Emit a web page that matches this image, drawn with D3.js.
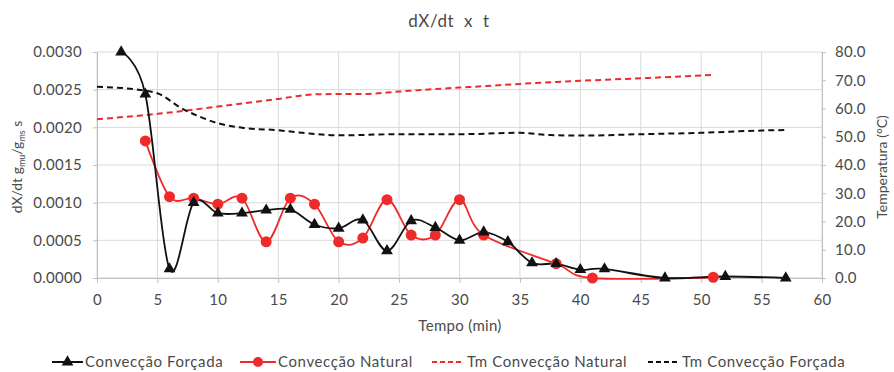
<!DOCTYPE html>
<html><head><meta charset="utf-8">
<script src="https://cdn.jsdelivr.net/npm/d3@7"></script>
<style>
html,body{margin:0;padding:0;background:#fff;}
text{font-family:Lato,"Open Sans",sans-serif;fill:#4a4a4a;}
</style></head>
<body><svg id="chart" width="894" height="372"></svg>
<script>
// ---- data ----
const forcadaTime = [2, 4, 6, 8, 10, 12, 14, 16, 18, 20, 22, 24, 26, 28, 30, 32, 34, 36, 38, 40, 42, 47, 52, 57];
const forcadaRate = [0.0030, 0.00244, 0.00012, 0.00100, 0.00086, 0.00086, 0.00090, 0.00091, 0.00071, 0.00066, 0.00077, 0.00036, 0.00076, 0.00067, 0.00050, 0.00061, 0.00048, 0.00020, 0.00019, 0.00011, 0.00012, 0.0, 0.00002, 0.0];
const naturalTime = [4, 6, 8, 10, 12, 14, 16, 18, 20, 22, 24, 26, 28, 30, 32, 38, 41, 51];
const naturalRate = [0.00182, 0.00108, 0.00106, 0.00098, 0.00106, 0.00048, 0.00106, 0.00098, 0.00048, 0.00053, 0.00104, 0.00057, 0.00057, 0.00104, 0.00057, 0.00019, 0.0, 0.00001];
const tmNaturalTime = [0, 5, 10, 15, 18, 20, 22, 25, 28, 30, 32, 35, 38, 40, 45, 51];
const tmNaturalTemp = [56.2, 58.1, 60.7, 63.4, 65.0, 65.1, 65.1, 66.0, 66.9, 67.4, 67.9, 68.7, 69.4, 69.8, 70.7, 71.9];
const tmForcadaTime = [0, 4, 5, 7, 8.5, 10, 12, 15, 17, 20, 25, 30, 35, 37.5, 40, 45, 50, 55, 57];
const tmForcadaTemp = [67.7, 66.3, 65.4, 60.1, 57.1, 54.8, 53.2, 52.3, 51.4, 50.5, 50.9, 50.9, 51.4, 50.6, 50.4, 50.9, 51.4, 52.2, 52.4];
const xTicks = [0, 5, 10, 15, 20, 25, 30, 35, 40, 45, 50, 55, 60];
const yLeftTicks = [0, 0.0005, 0.0010, 0.0015, 0.0020, 0.0025, 0.0030];
const yRightTicks = [0, 10, 20, 30, 40, 50, 60, 70, 80];
const seriesNames = ["Convecção Forçada", "Convecção Natural", "Tm Convecção Natural", "Tm Convecção Forçada"];

// ---- layout ----
const RED = "#ee2a2a", BLACK = "#111";
const svg = d3.select("#chart");
const L = 97, R = 822, T = 52, B = 278;
const x = d3.scaleLinear().domain([0, 60]).range([L, R]);
const yL = d3.scaleLinear().domain([0, 0.003]).range([B, T]);
const yR = d3.scaleLinear().domain([0, 80]).range([B, T]);

// grid
const grid = svg.append("g");
grid.selectAll(".hg").data(yLeftTicks).join("line")
  .attr("x1", L).attr("x2", R).attr("y1", d => yL(d)).attr("y2", d => yL(d))
  .attr("stroke", "#d9d9d9").attr("stroke-width", 1);
grid.selectAll(".vg").data(xTicks).join("line")
  .attr("x1", d => x(d)).attr("x2", d => x(d)).attr("y1", T).attr("y2", B)
  .attr("stroke", "#d9d9d9").attr("stroke-width", 1);

// axes
function styleAxis(g) {
  g.select(".domain").attr("stroke", "#bfbfbf");
  g.selectAll(".tick line").attr("stroke", "#bfbfbf");
  g.selectAll(".tick text").style("font-family", "Lato, sans-serif").style("font-size", "15px")
    .style("letter-spacing", "0.3px").attr("fill", "#4a4a4a");
}
svg.append("g").attr("transform", `translate(0,${B})`)
  .call(d3.axisBottom(x).tickValues(xTicks).tickSize(5).tickSizeOuter(0).tickPadding(11).tickFormat(d3.format("d")))
  .call(styleAxis);
svg.append("g").attr("transform", `translate(${L},0)`)
  .call(d3.axisLeft(yL).tickValues(yLeftTicks).tickSize(4).tickSizeOuter(0).tickPadding(11).tickFormat(d3.format(".4f")))
  .call(styleAxis);
svg.append("g").attr("transform", `translate(${R},0)`)
  .call(d3.axisRight(yR).tickValues(yRightTicks).tickSize(4).tickSizeOuter(0).tickPadding(9).tickFormat(d3.format(".1f")))
  .call(styleAxis);

// titles
svg.append("text").attr("x", 449).attr("y", 27).attr("text-anchor", "middle")
  .style("font-size", "17px").style("letter-spacing", "0.6px").attr("xml:space", "preserve").text("dX/dt  x  t");
svg.append("text").attr("x", 460).attr("y", 331).attr("text-anchor", "middle")
  .style("font-size", "15px").style("letter-spacing", "0.3px").text("Tempo (min)");
const lt = svg.append("text").attr("transform", "translate(22,167) rotate(-90)").attr("text-anchor", "middle")
  .style("font-size", "14px");
lt.append("tspan").text("dX/dt g");
lt.append("tspan").attr("dy", 3).style("font-size", "9px").text("mu");
lt.append("tspan").attr("dy", -3).text("/g");
lt.append("tspan").attr("dy", 3).style("font-size", "9px").text("ms");
lt.append("tspan").attr("dy", -3).text(" s");
svg.append("text").attr("transform", "translate(887,167) rotate(-90)").attr("text-anchor", "middle")
  .style("font-size", "14px").text("Temperatura (°C)");

// temperature lines (right axis)
const tmNat = tmNaturalTime.map((t, i) => [t, tmNaturalTemp[i]]);
const tmFor = tmForcadaTime.map((t, i) => [t, tmForcadaTemp[i]]);
const lineR = d3.line().x(d => x(d[0])).y(d => yR(d[1])).curve(d3.curveMonotoneX);
svg.append("path").datum(tmNat).attr("d", lineR).attr("fill", "none")
  .attr("stroke", RED).attr("stroke-width", 2).attr("stroke-dasharray", "6,4");
svg.append("path").datum(tmFor).attr("d", lineR).attr("fill", "none")
  .attr("stroke", BLACK).attr("stroke-width", 2).attr("stroke-dasharray", "6,4");

// rate lines (left axis)
const forc = forcadaTime.map((t, i) => [t, forcadaRate[i]]);
const nat = naturalTime.map((t, i) => [t, naturalRate[i]]);
const lineL = d3.line().x(d => x(d[0])).y(d => yL(d[1])).curve(d3.curveCardinal.tension(0));
svg.append("path").datum(nat).attr("d", lineL).attr("fill", "none")
  .attr("stroke", RED).attr("stroke-width", 1.8);
svg.append("path").datum(forc).attr("d", lineL).attr("fill", "none")
  .attr("stroke", BLACK).attr("stroke-width", 1.8);

const tri = d3.symbol().type(d3.symbolTriangle).size(60);
svg.selectAll(".nm").data(nat).join("circle")
  .attr("cx", d => x(d[0])).attr("cy", d => yL(d[1])).attr("r", 5.5).attr("fill", RED);
svg.selectAll(".fm").data(forc).join("path")
  .attr("d", tri).attr("transform", d => `translate(${x(d[0])},${yL(d[1])})`).attr("fill", BLACK);

// legend
const ly = 362;
const lg = svg.append("g");
const items = [
  {x0: 52, x1: 83, tx: 85, color: BLACK, dash: null, marker: "tri"},
  {x0: 240, x1: 276, tx: 278, color: RED, dash: null, marker: "circle"},
  {x0: 432, x1: 464, tx: 467, color: RED, dash: "5,3", marker: null},
  {x0: 648, x1: 680, tx: 682, color: BLACK, dash: "5,3", marker: null}
];
items.forEach((it, i) => {
  lg.append("line").attr("x1", it.x0).attr("x2", it.x1).attr("y1", ly).attr("y2", ly)
    .attr("stroke", it.color).attr("stroke-width", 2).attr("stroke-dasharray", it.dash);
  const cx = (it.x0 + it.x1) / 2;
  if (it.marker === "tri") lg.append("path").attr("d", tri).attr("transform", `translate(${cx},${ly})`).attr("fill", it.color);
  if (it.marker === "circle") lg.append("circle").attr("cx", cx).attr("cy", ly).attr("r", 5).attr("fill", it.color);
  lg.append("text").attr("x", it.tx).attr("y", ly + 5).style("font-size", "15px").style("letter-spacing", "0.6px").text(seriesNames[i]);
});
</script></body></html>
